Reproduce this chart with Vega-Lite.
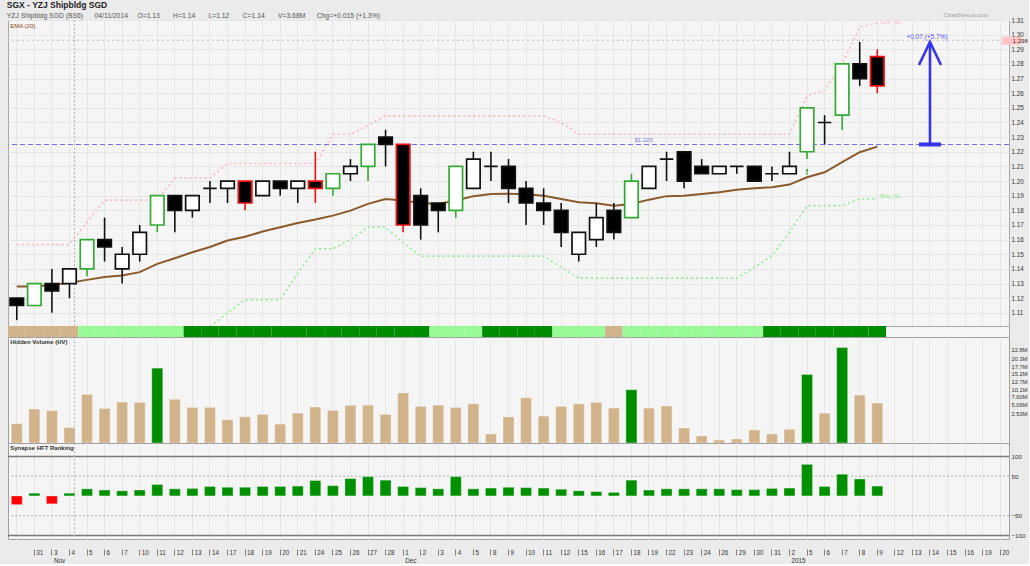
{
  "$schema": "https://vega.github.io/schema/vega-lite/v6.json",
  "background": "#ebebeb",
  "padding": {"left": 6, "top": 1, "right": 0, "bottom": 0},
  "autosize": {"type": "pad"},
  "title": {
    "text": "SGX - YZJ Shipbldg SGD",
    "subtitle": "\u00a0YZJ Shipbldg SGD (BS6)\u00a0\u00a0\u00a0\u00a0\u00a0\u00a004/11/2014\u00a0\u00a0\u00a0\u00a0\u00a0O=1.13\u00a0\u00a0\u00a0\u00a0\u00a0\u00a0\u00a0H=1.14\u00a0\u00a0\u00a0\u00a0\u00a0\u00a0\u00a0L=1.12\u00a0\u00a0\u00a0\u00a0\u00a0\u00a0\u00a0C=1.14\u00a0\u00a0\u00a0\u00a0\u00a0\u00a0\u00a0V=3.68M\u00a0\u00a0\u00a0\u00a0\u00a0\u00a0Chg=+0.015 (+1.3%)",
    "anchor": "start",
    "font": "Liberation Sans",
    "fontSize": 8.5,
    "fontWeight": "bold",
    "color": "#222222",
    "subtitleFont": "Liberation Sans",
    "subtitleFontSize": 6.8,
    "subtitleColor": "#555555",
    "subtitlePadding": 3,
    "offset": -8
  },
  "spacing": 0,
  "bounds": "flush",
  "resolve": {"scale": {"color": "independent", "fill": "independent", "stroke": "independent", "y": "independent"}},
  "datasets": {
    "ohlc": [
      {"d": "2014-10-30", "o": 1.12, "h": 1.12, "l": 1.105, "c": 1.115, "dir": "down", "tone": "plain", "ema": 1.128, "up": 1.1566, "lo": null, "vol": 4.6, "hv": "normal", "rank": -22, "zone": "neutral"},
      {"d": "2014-10-31", "o": 1.115, "h": 1.13, "l": 1.115, "c": 1.13, "dir": "up", "tone": "green", "ema": 1.128, "up": 1.1566, "lo": null, "vol": 8.07, "hv": "normal", "rank": 7, "zone": "neutral"},
      {"d": "2014-11-03", "o": 1.13, "h": 1.14, "l": 1.11, "c": 1.125, "dir": "down", "tone": "plain", "ema": 1.129, "up": 1.1566, "lo": null, "vol": 7.68, "hv": "normal", "rank": -20, "zone": "neutral"},
      {"d": "2014-11-04", "o": 1.13, "h": 1.14, "l": 1.12, "c": 1.14, "dir": "up", "tone": "plain", "ema": 1.1305, "up": 1.1566, "lo": null, "vol": 3.68, "hv": "normal", "rank": 7, "zone": "neutral"},
      {"d": "2014-11-05", "o": 1.14, "h": 1.16, "l": 1.135, "c": 1.16, "dir": "up", "tone": "green", "ema": 1.1325, "up": 1.172, "lo": null, "vol": 11.56, "hv": "normal", "rank": 18, "zone": "buy"},
      {"d": "2014-11-06", "o": 1.16, "h": 1.175, "l": 1.145, "c": 1.155, "dir": "down", "tone": "plain", "ema": 1.1344, "up": 1.187, "lo": null, "vol": 8.23, "hv": "normal", "rank": 15, "zone": "buy"},
      {"d": "2014-11-07", "o": 1.14, "h": 1.155, "l": 1.13, "c": 1.15, "dir": "up", "tone": "plain", "ema": 1.1355, "up": 1.187, "lo": null, "vol": 9.74, "hv": "normal", "rank": 13, "zone": "buy"},
      {"d": "2014-11-10", "o": 1.15, "h": 1.17, "l": 1.145, "c": 1.165, "dir": "up", "tone": "plain", "ema": 1.1378, "up": 1.187, "lo": null, "vol": 9.66, "hv": "normal", "rank": 15, "zone": "buy"},
      {"d": "2014-11-11", "o": 1.17, "h": 1.19, "l": 1.165, "c": 1.19, "dir": "up", "tone": "green", "ema": 1.1434, "up": 1.187, "lo": null, "vol": 17.8, "hv": "high", "rank": 29, "zone": "buy"},
      {"d": "2014-11-12", "o": 1.19, "h": 1.19, "l": 1.165, "c": 1.18, "dir": "down", "tone": "plain", "ema": 1.1473, "up": 1.202, "lo": null, "vol": 10.4, "hv": "normal", "rank": 18, "zone": "buy"},
      {"d": "2014-11-13", "o": 1.18, "h": 1.19, "l": 1.175, "c": 1.19, "dir": "up", "tone": "plain", "ema": 1.1514, "up": 1.202, "lo": null, "vol": 8.47, "hv": "normal", "rank": 19, "zone": "strong"},
      {"d": "2014-11-14", "o": 1.195, "h": 1.2, "l": 1.185, "c": 1.195, "dir": "up", "tone": "plain", "ema": 1.155, "up": 1.202, "lo": 1.1005, "vol": 8.47, "hv": "normal", "rank": 24, "zone": "strong"},
      {"d": "2014-11-17", "o": 1.195, "h": 1.2, "l": 1.185, "c": 1.2, "dir": "up", "tone": "plain", "ema": 1.1594, "up": 1.212, "lo": 1.11, "vol": 5.54, "hv": "normal", "rank": 22, "zone": "strong"},
      {"d": "2014-11-18", "o": 1.2, "h": 1.2, "l": 1.18, "c": 1.185, "dir": "down", "tone": "red", "ema": 1.162, "up": 1.212, "lo": 1.119, "vol": 6.25, "hv": "normal", "rank": 22, "zone": "strong"},
      {"d": "2014-11-19", "o": 1.19, "h": 1.2, "l": 1.19, "c": 1.2, "dir": "up", "tone": "plain", "ema": 1.1655, "up": 1.212, "lo": 1.119, "vol": 6.8, "hv": "normal", "rank": 24, "zone": "strong"},
      {"d": "2014-11-20", "o": 1.2, "h": 1.2, "l": 1.19, "c": 1.195, "dir": "down", "tone": "plain", "ema": 1.1685, "up": 1.212, "lo": 1.119, "vol": 4.5, "hv": "normal", "rank": 24, "zone": "strong"},
      {"d": "2014-11-21", "o": 1.195, "h": 1.2, "l": 1.185, "c": 1.2, "dir": "up", "tone": "plain", "ema": 1.1714, "up": 1.212, "lo": 1.137, "vol": 7.1, "hv": "normal", "rank": 25, "zone": "strong"},
      {"d": "2014-11-24", "o": 1.2, "h": 1.22, "l": 1.185, "c": 1.195, "dir": "down", "tone": "red", "ema": 1.1737, "up": 1.212, "lo": 1.1537, "vol": 8.55, "hv": "normal", "rank": 39, "zone": "strong"},
      {"d": "2014-11-25", "o": 1.195, "h": 1.205, "l": 1.19, "c": 1.205, "dir": "up", "tone": "green", "ema": 1.1764, "up": 1.232, "lo": 1.1537, "vol": 7.76, "hv": "normal", "rank": 26, "zone": "strong"},
      {"d": "2014-11-26", "o": 1.205, "h": 1.215, "l": 1.2, "c": 1.21, "dir": "up", "tone": "plain", "ema": 1.1798, "up": 1.232, "lo": 1.16, "vol": 8.95, "hv": "normal", "rank": 44, "zone": "strong"},
      {"d": "2014-11-27", "o": 1.21, "h": 1.225, "l": 1.2, "c": 1.225, "dir": "up", "tone": "green", "ema": 1.1844, "up": 1.238, "lo": 1.1685, "vol": 9.0, "hv": "normal", "rank": 49, "zone": "strong"},
      {"d": "2014-11-28", "o": 1.23, "h": 1.235, "l": 1.21, "c": 1.225, "dir": "down", "tone": "plain", "ema": 1.1878, "up": 1.2445, "lo": 1.1685, "vol": 6.8, "hv": "normal", "rank": 40, "zone": "strong"},
      {"d": "2014-12-01", "o": 1.225, "h": 1.225, "l": 1.165, "c": 1.17, "dir": "down", "tone": "red", "ema": 1.1867, "up": 1.2445, "lo": 1.158, "vol": 11.9, "hv": "normal", "rank": 24, "zone": "strong"},
      {"d": "2014-12-02", "o": 1.19, "h": 1.195, "l": 1.16, "c": 1.17, "dir": "down", "tone": "plain", "ema": 1.185, "up": 1.2445, "lo": 1.1487, "vol": 8.7, "hv": "normal", "rank": 21, "zone": "strong"},
      {"d": "2014-12-03", "o": 1.185, "h": 1.185, "l": 1.165, "c": 1.18, "dir": "down", "tone": "plain", "ema": 1.1844, "up": 1.2445, "lo": 1.1487, "vol": 9.0, "hv": "normal", "rank": 18, "zone": "buy"},
      {"d": "2014-12-04", "o": 1.18, "h": 1.21, "l": 1.175, "c": 1.21, "dir": "up", "tone": "green", "ema": 1.1867, "up": 1.2445, "lo": 1.1487, "vol": 8.47, "hv": "normal", "rank": 49, "zone": "buy"},
      {"d": "2014-12-05", "o": 1.195, "h": 1.22, "l": 1.195, "c": 1.215, "dir": "up", "tone": "plain", "ema": 1.1897, "up": 1.2445, "lo": 1.1487, "vol": 9.3, "hv": "normal", "rank": 18, "zone": "buy"},
      {"d": "2014-12-08", "o": 1.21, "h": 1.22, "l": 1.2, "c": 1.21, "dir": "up", "tone": "plain", "ema": 1.1912, "up": 1.2445, "lo": 1.1487, "vol": 2.14, "hv": "normal", "rank": 20, "zone": "strong"},
      {"d": "2014-12-09", "o": 1.21, "h": 1.215, "l": 1.185, "c": 1.195, "dir": "down", "tone": "plain", "ema": 1.1914, "up": 1.2445, "lo": 1.1487, "vol": 6.2, "hv": "normal", "rank": 22, "zone": "strong"},
      {"d": "2014-12-10", "o": 1.195, "h": 1.2, "l": 1.17, "c": 1.185, "dir": "down", "tone": "plain", "ema": 1.191, "up": 1.2445, "lo": 1.1487, "vol": 10.76, "hv": "normal", "rank": 21, "zone": "strong"},
      {"d": "2014-12-11", "o": 1.185, "h": 1.195, "l": 1.17, "c": 1.18, "dir": "down", "tone": "plain", "ema": 1.19, "up": 1.2445, "lo": 1.1487, "vol": 6.4, "hv": "normal", "rank": 20, "zone": "strong"},
      {"d": "2014-12-12", "o": 1.18, "h": 1.185, "l": 1.155, "c": 1.165, "dir": "down", "tone": "plain", "ema": 1.1878, "up": 1.24, "lo": 1.141, "vol": 8.7, "hv": "normal", "rank": 17, "zone": "buy"},
      {"d": "2014-12-15", "o": 1.15, "h": 1.165, "l": 1.145, "c": 1.165, "dir": "up", "tone": "plain", "ema": 1.1855, "up": 1.232, "lo": 1.1337, "vol": 9.3, "hv": "normal", "rank": 13, "zone": "buy"},
      {"d": "2014-12-16", "o": 1.16, "h": 1.185, "l": 1.155, "c": 1.175, "dir": "up", "tone": "plain", "ema": 1.1848, "up": 1.232, "lo": 1.1337, "vol": 9.66, "hv": "normal", "rank": 11, "zone": "buy"},
      {"d": "2014-12-17", "o": 1.18, "h": 1.185, "l": 1.16, "c": 1.165, "dir": "down", "tone": "plain", "ema": 1.1832, "up": 1.232, "lo": 1.1337, "vol": 8.3, "hv": "normal", "rank": 9, "zone": "neutral"},
      {"d": "2014-12-18", "o": 1.175, "h": 1.205, "l": 1.175, "c": 1.2, "dir": "up", "tone": "green", "ema": 1.1844, "up": 1.232, "lo": 1.1337, "vol": 12.67, "hv": "high", "rank": 40, "zone": "buy"},
      {"d": "2014-12-19", "o": 1.195, "h": 1.21, "l": 1.195, "c": 1.21, "dir": "up", "tone": "plain", "ema": 1.1873, "up": 1.232, "lo": 1.1337, "vol": 8.3, "hv": "normal", "rank": 15, "zone": "buy"},
      {"d": "2014-12-22", "o": 1.215, "h": 1.22, "l": 1.2, "c": 1.215, "dir": "up", "tone": "plain", "ema": 1.1897, "up": 1.232, "lo": 1.1337, "vol": 8.8, "hv": "normal", "rank": 18, "zone": "buy"},
      {"d": "2014-12-23", "o": 1.22, "h": 1.22, "l": 1.195, "c": 1.2, "dir": "down", "tone": "plain", "ema": 1.19, "up": 1.232, "lo": 1.1337, "vol": 3.56, "hv": "normal", "rank": 18, "zone": "buy"},
      {"d": "2014-12-24", "o": 1.21, "h": 1.215, "l": 1.205, "c": 1.205, "dir": "down", "tone": "plain", "ema": 1.1912, "up": 1.232, "lo": 1.1337, "vol": 1.66, "hv": "normal", "rank": 18, "zone": "buy"},
      {"d": "2014-12-26", "o": 1.205, "h": 1.21, "l": 1.205, "c": 1.21, "dir": "up", "tone": "plain", "ema": 1.1924, "up": 1.232, "lo": 1.1337, "vol": 0.7, "hv": "normal", "rank": 18, "zone": "buy"},
      {"d": "2014-12-29", "o": 1.21, "h": 1.21, "l": 1.205, "c": 1.21, "dir": "up", "tone": "plain", "ema": 1.194, "up": 1.232, "lo": 1.1337, "vol": 0.95, "hv": "normal", "rank": 16, "zone": "buy"},
      {"d": "2014-12-30", "o": 1.21, "h": 1.21, "l": 1.2, "c": 1.2, "dir": "down", "tone": "plain", "ema": 1.1951, "up": 1.232, "lo": 1.141, "vol": 3.1, "hv": "normal", "rank": 16, "zone": "buy"},
      {"d": "2014-12-31", "o": 1.205, "h": 1.21, "l": 1.2, "c": 1.205, "dir": "up", "tone": "plain", "ema": 1.1958, "up": 1.232, "lo": 1.149, "vol": 2.14, "hv": "normal", "rank": 19, "zone": "strong"},
      {"d": "2015-01-02", "o": 1.205, "h": 1.22, "l": 1.205, "c": 1.21, "dir": "up", "tone": "plain", "ema": 1.1976, "up": 1.232, "lo": 1.165, "vol": 3.25, "hv": "normal", "rank": 20, "zone": "strong"},
      {"d": "2015-01-05", "o": 1.22, "h": 1.25, "l": 1.215, "c": 1.25, "dir": "up", "tone": "green", "ema": 1.2026, "up": 1.258, "lo": 1.1832, "vol": 16.3, "hv": "high", "rank": 80, "zone": "strong"},
      {"d": "2015-01-06", "o": 1.24, "h": 1.245, "l": 1.225, "c": 1.24, "dir": "up", "tone": "plain", "ema": 1.206, "up": 1.262, "lo": 1.1832, "vol": 7.1, "hv": "normal", "rank": 24, "zone": "strong"},
      {"d": "2015-01-07", "o": 1.245, "h": 1.28, "l": 1.235, "c": 1.28, "dir": "up", "tone": "green", "ema": 1.2129, "up": 1.28, "lo": 1.1832, "vol": 22.7, "hv": "high", "rank": 55, "zone": "strong"},
      {"d": "2015-01-08", "o": 1.28, "h": 1.295, "l": 1.265, "c": 1.27, "dir": "down", "tone": "plain", "ema": 1.2197, "up": 1.305, "lo": 1.1878, "vol": 11.4, "hv": "normal", "rank": 43, "zone": "strong"},
      {"d": "2015-01-09", "o": 1.285, "h": 1.29, "l": 1.26, "c": 1.265, "dir": "down", "tone": "red", "ema": 1.2235, "up": 1.308, "lo": 1.1878, "vol": 9.5, "hv": "normal", "rank": 25, "zone": "strong"}
    ]
  },
  "vconcat": [
    {
      "width": 1001,
      "height": 306,
      "view": {"stroke": "#a8a8a8", "fill": "#f5f5f5"},
      "layer": [
        {
          "data": {"name": "ohlc"},
          "mark": {"type": "line", "color": "#ffb6c1", "strokeWidth": 1.6, "strokeDash": [2, 3]},
          "encoding": {
            "x": {"field": "d", "type": "ordinal",
              "scale": {"domain": ["2014-10-30","2014-10-31","2014-11-03","2014-11-04","2014-11-05","2014-11-06","2014-11-07","2014-11-10","2014-11-11","2014-11-12","2014-11-13","2014-11-14","2014-11-17","2014-11-18","2014-11-19","2014-11-20","2014-11-21","2014-11-24","2014-11-25","2014-11-26","2014-11-27","2014-11-28","2014-12-01","2014-12-02","2014-12-03","2014-12-04","2014-12-05","2014-12-08","2014-12-09","2014-12-10","2014-12-11","2014-12-12","2014-12-15","2014-12-16","2014-12-17","2014-12-18","2014-12-19","2014-12-22","2014-12-23","2014-12-24","2014-12-26","2014-12-29","2014-12-30","2014-12-31","2015-01-02","2015-01-05","2015-01-06","2015-01-07","2015-01-08","2015-01-09","2015-01-12","2015-01-13","2015-01-14","2015-01-15","2015-01-16","2015-01-19","2015-01-20"], "paddingInner": 0, "paddingOuter": 0},
              "axis": {"title": null, "labels": false, "ticks": false, "domain": false, "grid": true, "gridColor": "#e6e6e6", "bandPosition": 0.5}},
            "y": {"field": "up", "type": "quantitative",
              "scale": {"domain": [1.101, 1.31], "nice": false, "zero": false},
              "axis": {"title": null, "orient": "right", "values": [1.11,1.12,1.13,1.14,1.15,1.16,1.17,1.18,1.19,1.2,1.21,1.22,1.23,1.24,1.25,1.26,1.27,1.28,1.29,1.3,1.31], "tickCount": 100, "format": ".2f", "grid": true, "gridColor": "#e6e6e6", "ticks": false, "domain": false, "labelPadding": 2, "labelFontSize": 6.3, "labelOverlap": false, "labelBound": false}}
          }
        },
        {
          "data": {"name": "ohlc"},
          "mark": {"type": "line", "color": "#90ee90", "strokeWidth": 1.6, "strokeDash": [2, 3]},
          "encoding": {
            "x": {"field": "d", "type": "ordinal"},
            "y": {"field": "lo", "type": "quantitative"}
          }
        },
        {
          "data": {"values": [{"d": "2014-11-04"}]},
          "mark": {"type": "rule", "color": "#b4b4b4", "strokeDash": [2, 2], "xOffset": 5},
          "encoding": {"x": {"field": "d", "type": "ordinal"}}
        },
        {
          "data": {"values": [{"p": 1.2962}]},
          "mark": {"type": "rule", "color": "#bdbdbd", "strokeDash": [2, 3]},
          "encoding": {"y": {"field": "p", "type": "quantitative"}}
        },
        {
          "data": {"values": [{"p": 1.225}]},
          "mark": {"type": "rule", "color": "#6f6fea", "strokeDash": [5, 3], "strokeWidth": 1.1},
          "encoding": {"y": {"field": "p", "type": "quantitative"}}
        },
        {
          "data": {"name": "ohlc"},
          "mark": {"type": "line", "color": "#8b5a2b", "strokeWidth": 2},
          "encoding": {
            "x": {"field": "d", "type": "ordinal"},
            "y": {"field": "ema", "type": "quantitative"}
          }
        },
        {
          "data": {"name": "ohlc"},
          "mark": {"type": "rule", "strokeWidth": 1.6},
          "encoding": {
            "x": {"field": "d", "type": "ordinal"},
            "y": {"field": "l", "type": "quantitative"},
            "y2": {"field": "h"},
            "color": {"field": "tone", "type": "nominal", "scale": {"domain": ["plain", "green", "red"], "range": ["#111111", "#33aa33", "#ee1111"]}, "legend": null}
          }
        },
        {
          "data": {"name": "ohlc"},
          "mark": {"type": "bar", "size": 13.5, "strokeWidth": 1.7},
          "encoding": {
            "x": {"field": "d", "type": "ordinal"},
            "y": {"field": "o", "type": "quantitative"},
            "y2": {"field": "c"},
            "fill": {"field": "dir", "type": "nominal", "scale": {"domain": ["up", "down"], "range": ["#ffffff", "#000000"]}, "legend": null},
            "stroke": {"field": "tone", "type": "nominal", "scale": {"domain": ["plain", "green", "red"], "range": ["#111111", "#33aa33", "#ee1111"]}, "legend": null}
          }
        },
        {
          "data": {"values": [{"d": "2015-01-05", "p": 1.2065}]},
          "mark": {"type": "point", "shape": "arrow", "filled": true, "size": 45, "color": "#22aa22", "opacity": 1},
          "encoding": {
            "x": {"field": "d", "type": "ordinal"},
            "y": {"field": "p", "type": "quantitative"}
          }
        },
        {
          "data": {"values": [{"d": "2015-01-14", "from": 1.225, "to": 1.295, "txt": "+0.07 (+5.7%)"}]},
          "layer": [
            {
              "mark": {"type": "rule", "color": "#3535ee", "strokeWidth": 2.6},
              "encoding": {
                "x": {"field": "d", "type": "ordinal"},
                "y": {"field": "from", "type": "quantitative"},
                "y2": {"field": "to"}
              }
            },
            {
              "mark": {"type": "tick", "color": "#3535ee", "size": 22, "thickness": 4, "opacity": 1},
              "encoding": {
                "x": {"field": "d", "type": "ordinal"},
                "y": {"field": "from", "type": "quantitative"}
              }
            },
            {
              "mark": {"type": "point", "shape": "M-1,2.1L0,0L1,2.1", "filled": false, "size": 484, "color": "#3535ee", "strokeWidth": 2.6, "opacity": 1},
              "encoding": {
                "x": {"field": "d", "type": "ordinal"},
                "y": {"field": "to", "type": "quantitative"}
              }
            },
            {
              "mark": {"type": "text", "color": "#5555ff", "fontSize": 6.5, "baseline": "bottom", "dy": -2, "xOffset": -3},
              "encoding": {
                "x": {"field": "d", "type": "ordinal"},
                "y": {"field": "to", "type": "quantitative"},
                "text": {"field": "txt"}
              }
            }
          ]
        },
        {
          "data": {"values": [{"d": "2014-12-18", "p": 1.225, "t": "$1.225"}]},
          "mark": {"type": "text", "color": "#7a7aff", "fontSize": 6, "align": "left", "baseline": "bottom", "dy": -1, "xOffset": 3},
          "encoding": {
            "x": {"field": "d", "type": "ordinal"},
            "y": {"field": "p", "type": "quantitative"},
            "text": {"field": "t"}
          }
        },
        {
          "data": {"values": [{"d": "2015-01-09", "p": 1.19, "t": "Buy_SL"}]},
          "mark": {"type": "text", "color": "#90ee90", "fontSize": 6, "align": "left", "baseline": "middle", "xOffset": 3},
          "encoding": {
            "x": {"field": "d", "type": "ordinal"},
            "y": {"field": "p", "type": "quantitative"},
            "text": {"field": "t"}
          }
        },
        {
          "data": {"values": [{"d": "2015-01-09", "p": 1.3083, "t": "Sell_SL"}]},
          "mark": {"type": "text", "color": "#ffc0c8", "fontSize": 6, "align": "left", "baseline": "middle", "xOffset": 3},
          "encoding": {
            "x": {"field": "d", "type": "ordinal"},
            "y": {"field": "p", "type": "quantitative"},
            "text": {"field": "t"}
          }
        },
        {
          "data": {"values": [{"d": "2014-10-30", "p": 1.31, "t": "EMA (20)"}]},
          "mark": {"type": "text", "color": "#8b4513", "fontSize": 6, "align": "left", "baseline": "top", "dy": 3, "xOffset": -6.5},
          "encoding": {
            "x": {"field": "d", "type": "ordinal"},
            "y": {"field": "p", "type": "quantitative"},
            "text": {"field": "t"}
          }
        },
        {
          "data": {"values": [{"d": "2015-01-16", "p": 1.31, "t": "ChartNexus.com"}]},
          "mark": {"type": "text", "color": "#a0a0a0", "fontSize": 6, "align": "center", "baseline": "bottom", "dy": -2, "xOffset": 1},
          "encoding": {
            "x": {"field": "d", "type": "ordinal"},
            "y": {"field": "p", "type": "quantitative"},
            "text": {"field": "t"}
          }
        },
        {
          "data": {"values": [{"d": "2015-01-20", "p": 1.2958, "t": "1.298"}]},
          "layer": [
            {
              "mark": {"type": "point", "shape": "M-1,-0.42L1,-0.42L1,0.42L-1,0.42Z", "filled": true, "size": 380, "color": "#ffc4c4", "opacity": 1},
              "encoding": {
                "x": {"field": "d", "type": "ordinal"},
                "y": {"field": "p", "type": "quantitative"},
                "xOffset": {"value": 20}
              }
            },
            {
              "mark": {"type": "text", "color": "#552222", "fontSize": 6.2, "align": "center", "baseline": "middle", "xOffset": 20},
              "encoding": {
                "x": {"field": "d", "type": "ordinal"},
                "y": {"field": "p", "type": "quantitative"},
                "text": {"field": "t"}
              }
            }
          ]
        }
      ]
    },
    {
      "width": 1001,
      "height": 11,
      "view": {"stroke": "#a8a8a8", "fill": "#f5f5f5"},
      "data": {"name": "ohlc"},
      "mark": {"type": "bar"},
      "encoding": {
        "x": {"field": "d", "type": "ordinal",
          "scale": {"domain": ["2014-10-30","2014-10-31","2014-11-03","2014-11-04","2014-11-05","2014-11-06","2014-11-07","2014-11-10","2014-11-11","2014-11-12","2014-11-13","2014-11-14","2014-11-17","2014-11-18","2014-11-19","2014-11-20","2014-11-21","2014-11-24","2014-11-25","2014-11-26","2014-11-27","2014-11-28","2014-12-01","2014-12-02","2014-12-03","2014-12-04","2014-12-05","2014-12-08","2014-12-09","2014-12-10","2014-12-11","2014-12-12","2014-12-15","2014-12-16","2014-12-17","2014-12-18","2014-12-19","2014-12-22","2014-12-23","2014-12-24","2014-12-26","2014-12-29","2014-12-30","2014-12-31","2015-01-02","2015-01-05","2015-01-06","2015-01-07","2015-01-08","2015-01-09","2015-01-12","2015-01-13","2015-01-14","2015-01-15","2015-01-16","2015-01-19","2015-01-20"], "paddingInner": 0, "paddingOuter": 0},
          "axis": null},
        "color": {"field": "zone", "type": "nominal", "scale": {"domain": ["neutral", "buy", "strong"], "range": ["#d2b48c", "#98fb98", "#008c00"]}, "legend": null}
      }
    },
    {
      "width": 1001,
      "height": 106,
      "view": {"stroke": "#a0a0a0", "fill": "#f5f5f5"},
      "layer": [
        {
          "data": {"name": "ohlc"},
          "mark": {"type": "bar", "size": 11, "stroke": "#ffffff", "strokeOpacity": 0.35, "strokeWidth": 1},
          "encoding": {
            "x": {"field": "d", "type": "ordinal",
              "scale": {"domain": ["2014-10-30","2014-10-31","2014-11-03","2014-11-04","2014-11-05","2014-11-06","2014-11-07","2014-11-10","2014-11-11","2014-11-12","2014-11-13","2014-11-14","2014-11-17","2014-11-18","2014-11-19","2014-11-20","2014-11-21","2014-11-24","2014-11-25","2014-11-26","2014-11-27","2014-11-28","2014-12-01","2014-12-02","2014-12-03","2014-12-04","2014-12-05","2014-12-08","2014-12-09","2014-12-10","2014-12-11","2014-12-12","2014-12-15","2014-12-16","2014-12-17","2014-12-18","2014-12-19","2014-12-22","2014-12-23","2014-12-24","2014-12-26","2014-12-29","2014-12-30","2014-12-31","2015-01-02","2015-01-05","2015-01-06","2015-01-07","2015-01-08","2015-01-09","2015-01-12","2015-01-13","2015-01-14","2015-01-15","2015-01-16","2015-01-19","2015-01-20"], "paddingInner": 0, "paddingOuter": 0},
              "axis": {"title": null, "labels": false, "ticks": false, "domain": false, "grid": true, "gridColor": "#e6e6e6", "bandPosition": 0.5}},
            "y": {"field": "vol", "type": "quantitative", "scale": {"domain": [0, 25.2], "nice": false},
              "axis": {"title": null, "orient": "right", "values": [7.13, 9.1, 11, 12.83, 14.66, 16.46, 18.29, 20.19, 22.33], "tickCount": 100, "labelExpr": "datum.value < 8 ? '2.53M' : datum.value < 10 ? '5.06M' : datum.value < 12 ? '7.60M' : datum.value < 13.5 ? '10.1M' : datum.value < 15.5 ? '12.7M' : datum.value < 17.5 ? '15.2M' : datum.value < 19 ? '17.7M' : datum.value < 21 ? '20.3M' : '22.8M'", "grid": false, "ticks": false, "domain": false, "labelPadding": 2, "labelFontSize": 5.8, "labelOverlap": false, "labelBound": false}},
            "color": {"field": "hv", "type": "nominal", "scale": {"domain": ["normal", "high"], "range": ["#d2b48c", "#008c00"]}, "legend": null}
          }
        },
        {
          "data": {"values": [{"d": "2014-11-04"}]},
          "mark": {"type": "rule", "color": "#b4b4b4", "strokeDash": [2, 2], "xOffset": 5},
          "encoding": {"x": {"field": "d", "type": "ordinal"}}
        },
        {
          "data": {"values": [{"d": "2014-10-30", "v": 25.2, "t": "Hidden Volume (HV)"}]},
          "mark": {"type": "text", "color": "#333333", "fontSize": 6, "fontWeight": "bold", "align": "left", "baseline": "top", "dy": 2, "xOffset": -6.5},
          "encoding": {
            "x": {"field": "d", "type": "ordinal"},
            "y": {"field": "v", "type": "quantitative"},
            "text": {"field": "t"}
          }
        }
      ]
    },
    {
      "width": 1001,
      "height": 96,
      "view": {"stroke": "#a0a0a0", "fill": "#f5f5f5"},
      "layer": [
        {
          "data": {"values": [{"lv": 100}, {"lv": -100}]},
          "mark": {"type": "rule", "color": "#7a7a7a", "strokeWidth": 1.4},
          "encoding": {"y": {"field": "lv", "type": "quantitative", "scale": {"domain": [-109, 134], "nice": false},
              "axis": {"title": null, "orient": "right", "values": [100, 50, -50, -100], "tickCount": 100, "grid": false, "ticks": false, "domain": false, "labelPadding": 2, "labelFontSize": 6.2, "labelOverlap": false, "labelBound": false}}}
        },
        {
          "data": {"values": [{"lv": 50}, {"lv": -50}]},
          "mark": {"type": "rule", "color": "#b0b0b0", "strokeDash": [2, 2]},
          "encoding": {"y": {"field": "lv", "type": "quantitative"}}
        },
        {
          "data": {"name": "ohlc"},
          "mark": {"type": "bar", "size": 11, "stroke": "#ffffff", "strokeOpacity": 0.35, "strokeWidth": 1},
          "encoding": {
            "x": {"field": "d", "type": "ordinal",
              "scale": {"domain": ["2014-10-30","2014-10-31","2014-11-03","2014-11-04","2014-11-05","2014-11-06","2014-11-07","2014-11-10","2014-11-11","2014-11-12","2014-11-13","2014-11-14","2014-11-17","2014-11-18","2014-11-19","2014-11-20","2014-11-21","2014-11-24","2014-11-25","2014-11-26","2014-11-27","2014-11-28","2014-12-01","2014-12-02","2014-12-03","2014-12-04","2014-12-05","2014-12-08","2014-12-09","2014-12-10","2014-12-11","2014-12-12","2014-12-15","2014-12-16","2014-12-17","2014-12-18","2014-12-19","2014-12-22","2014-12-23","2014-12-24","2014-12-26","2014-12-29","2014-12-30","2014-12-31","2015-01-02","2015-01-05","2015-01-06","2015-01-07","2015-01-08","2015-01-09","2015-01-12","2015-01-13","2015-01-14","2015-01-15","2015-01-16","2015-01-19","2015-01-20"], "paddingInner": 0, "paddingOuter": 0},
              "axis": {"title": null, "orient": "bottom", "grid": true, "gridColor": "#e6e6e6", "bandPosition": 0.5, "domain": false, "offset": 10, "tickSize": 6, "tickColor": "#808080", "tickOpacity": {"condition": {"test": "datum.value == '2014-10-30'", "value": 0}, "value": 1}, "labelPadding": -6, "labelBaseline": "top", "labelAlign": "left", "labelOffset": 2, "labelFontSize": 6.3, "labelLineHeight": 8, "labelOverlap": false, "labelAngle": 0, "labelColor": "#333333",
                "labelExpr": "datum.value == '2014-11-03' ? ['3','Nov'] : datum.value == '2014-12-01' ? ['1','Dec'] : datum.value == '2015-01-02' ? ['2','2015'] : datum.value == '2014-10-30' ? '' : '' + toNumber(substring(datum.value, 8, 10))"}},
            "y": {"field": "rank", "type": "quantitative"},
            "color": {"condition": {"test": "datum.rank < 0", "value": "#ff0000"}, "value": "#009000"}
          }
        },
        {
          "data": {"values": [{"d": "2014-11-04"}]},
          "mark": {"type": "rule", "color": "#b4b4b4", "strokeDash": [2, 2], "xOffset": 5},
          "encoding": {"x": {"field": "d", "type": "ordinal"}}
        },
        {
          "data": {"values": [{"d": "2014-10-30", "v": 134, "t": "Synapse HFT Ranking"}]},
          "mark": {"type": "text", "color": "#333333", "fontSize": 6, "fontWeight": "bold", "align": "left", "baseline": "top", "dy": 2, "xOffset": -6.5},
          "encoding": {
            "x": {"field": "d", "type": "ordinal"},
            "y": {"field": "v", "type": "quantitative"},
            "text": {"field": "t"}
          }
        }
      ]
    }
  ],
  "config": {
    "font": "Liberation Sans",
    "axis": {"labelFont": "Liberation Sans", "labelColor": "#333333"},
    "text": {"font": "Liberation Sans"}
  }
}
